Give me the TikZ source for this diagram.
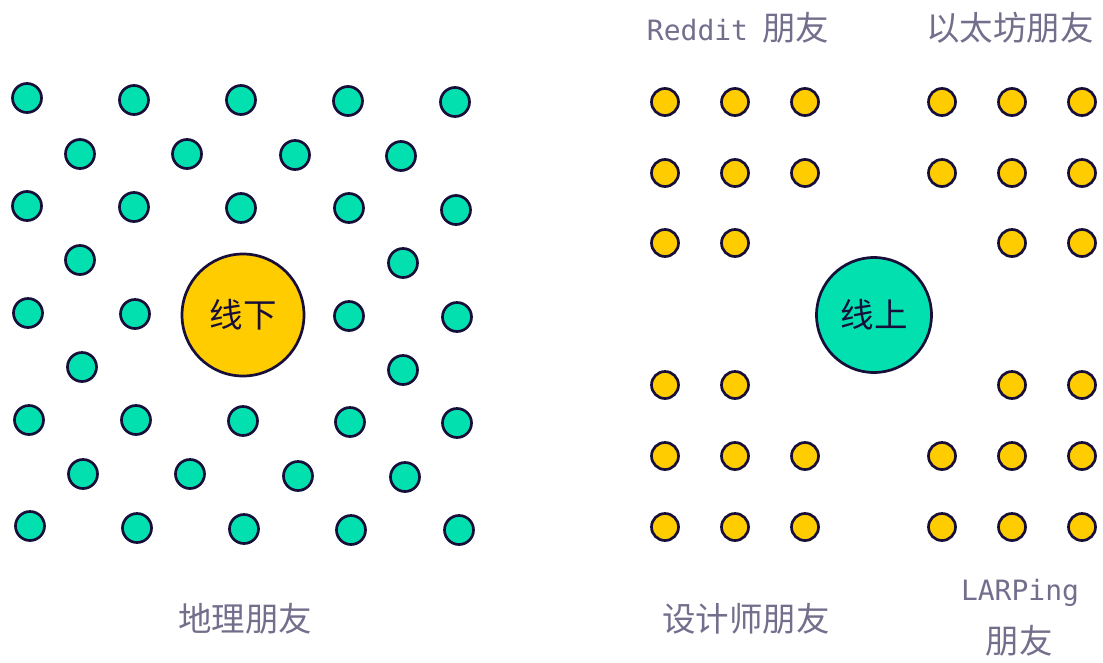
\documentclass[tikz,border=0pt]{standalone}
\usepackage{fontspec}
\setmainfont{Noto Sans CJK SC}
\newfontfamily\latinmono{DejaVu Sans Mono}
\definecolor{mint}{HTML}{03E0B0}
\definecolor{gold}{HTML}{FFCC00}
\definecolor{ink}{HTML}{170F3A}
\definecolor{muted}{HTML}{736E8C}

\begin{document}
\begin{tikzpicture}[
    x=1pt,
    y=-1pt,
    font=\fontsize{33.5}{40}\selectfont,
    dot/.style={
        circle,
        draw=ink,
        line width=2.7pt,
        inner sep=0pt
    },
    hub/.style={
        circle,
        draw=ink,
        line width=2.7pt,
        inner sep=0pt,
        text=ink
    },
    lbl/.style={
        text=muted,
        anchor=base,
        inner sep=0pt
    }
]

\useasboundingbox (0,0) rectangle (1103,662);

% offline: friends around the centre
\node[hub,fill=gold,minimum size=122pt] (offline) at (243,315) {线下};

\foreach \x/\y [count=\i] in {
    27/98, 134/100, 241/100, 348/101, 455/102,
    80/154, 187/154, 295/155, 401/156,
    27/206, 134/207, 241/208, 349/208, 456/210,
    80/260, 403/263,
    28/313, 135/314, 349/316, 457/317,
    82/367, 403/370,
    29/420, 136/420, 243/421, 350/422, 457/423,
    83/474, 190/474, 298/476, 405/477,
    30/526, 137/528, 244/529, 351/530, 459/530}
    \node[dot,fill=mint,minimum size=29pt] (g\i) at (\x,\y) {};

\node[lbl] (geo) at (245,631) {地理朋友};

% online: four groups round the centre
\node[hub,fill=mint,minimum size=115pt] (online) at (874,315) {线上};

\foreach \x/\y [count=\i] in {
    665/102, 735/102, 805/102, 665/173, 735/173, 805/173, 665/243, 735/243,
    942/102, 1012/102, 1082/102, 942/173, 1012/173, 1082/173, 1012/243, 1082/243,
    665/385, 735/385, 665/456, 735/456, 805/456, 665/527, 735/527, 805/527,
    1012/385, 1082/385, 942/456, 1012/456, 1082/456, 942/527, 1012/527, 1082/527}
    \node[dot,fill=gold,minimum size=27pt] (y\i) at (\x,\y) {};

\node[lbl] (reddit) at (738,40) {{\latinmono\fontsize{28}{34}\selectfont Reddit}\hspace{14pt}朋友};

\node[lbl] (eth) at (1010,40) {以太坊朋友};

\node[lbl] (design) at (746,631) {设计师朋友};

\node[lbl] (larp) at (1020,600) {\latinmono\fontsize{28}{34}\selectfont LARPing};

\node[lbl] (larpf) at (1019,653) {朋友};

\end{tikzpicture}
\end{document}
